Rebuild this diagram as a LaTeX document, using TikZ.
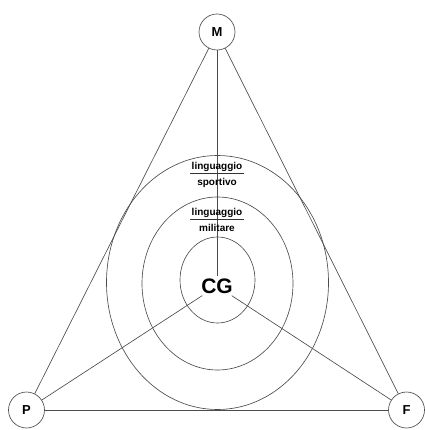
\documentclass[tikz,border=0pt]{standalone}
\usepackage{fontspec}
\setmainfont{Liberation Sans}
\begin{document}
\begin{tikzpicture}[x=1pt,y=-1pt,
  ln/.style={draw=black!70,line width=0.65pt},
  vertex/.style={circle,draw=black!70,line width=0.65pt,fill=white,minimum size=36pt,inner sep=0pt,font=\fontsize{13}{14}\selectfont\bfseries},
  lab/.style={inner sep=0.5pt,font=\fontsize{10}{11}\selectfont\bfseries,text=black},
  rulez/.style={draw=black!80,line width=0.6pt}]
\useasboundingbox (0,0) rectangle (424,430);
% ellipses
\draw[ln] (217.5,280) ellipse [x radius=37.5, y radius=43];
\draw[ln] (217.5,283.5) ellipse [x radius=75.5, y radius=86.5];
\draw[ln] (217.5,282.5) ellipse [x radius=111, y radius=127];
% nodes
\node[vertex] (M) at (217,32) {M};
\node[vertex] (P) at (26.5,410) {P};
\node[vertex] (F) at (406.5,410) {F};
\node[inner sep=2pt,font=\fontsize{21}{22}\selectfont\bfseries] (CG) at (217,286) {CG};
% connectors
\draw[ln] (M) -- (P);
\draw[ln] (M) -- (F);
\draw[ln] (P) -- (F);
\draw[ln] (M) -- (CG);
\draw[ln] (P) -- (CG);
\draw[ln] (F) -- (CG);
% labels
\node[lab] (ls) at (217,167) {linguaggio};
\node[lab] (sp) at (217,182.5) {sportivo};
\draw[rulez] ([xshift=-1pt,yshift=-1pt]ls.south west) -- ([xshift=1pt,yshift=-1pt]ls.south east);
\node[lab] (lm) at (217,213) {linguaggio};
\node[lab] (mi) at (217,227.5) {militare};
\draw[rulez] ([xshift=-1pt,yshift=-1pt]lm.south west) -- ([xshift=1pt,yshift=-1pt]lm.south east);
\end{tikzpicture}
\end{document}
